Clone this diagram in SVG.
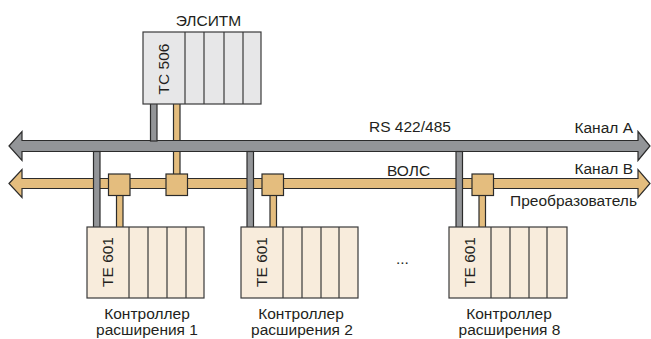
<svg xmlns="http://www.w3.org/2000/svg" width="651" height="339" viewBox="0 0 651 339">
<style>
text{font-family:"Liberation Sans",Arial,sans-serif;font-size:15.5px;fill:#231f20}
.g{fill:#939598;stroke:#2b2b2b;stroke-width:1.2}
.o{fill:#e4bd7e;stroke:#2b2b2b;stroke-width:1.2}
.top{fill:#e7e7e8;stroke:#3a3a3a;stroke-width:1.2}
.ctl{fill:#f8ecdc;stroke:#3a3a3a;stroke-width:1.2}
.div{stroke:#3a3a3a;stroke-width:1.2;fill:none}
.m{text-anchor:middle}
.e{text-anchor:end}
</style>
<rect width="651" height="339" fill="#fff"/>
<g id="connectors">
  <rect class="o" x="173.5" y="100" width="6.5" height="76"/>
  <polygon id="bus-a" class="g" points="9,146 22,131.5 22,140.5 638,140.5 638,131.5 650,146 638,160.5 638,151.5 22,151.5 22,160.5"/>
  <rect class="g" x="150.5" y="100" width="6.5" height="41"/>
  <polygon id="bus-b" class="o" points="9,183.5 22,169.5 22,178.5 638,178.5 638,169.5 650,183.5 638,197.5 638,188.5 22,188.5 22,197.5"/>
  <rect class="g" x="93.5" y="151.5" width="6.5" height="78"/>
  <rect class="g" x="247" y="151.5" width="6.5" height="78"/>
  <rect class="g" x="456" y="151.5" width="6.5" height="78"/>
  <rect class="o" x="116.5" y="192" width="6.5" height="37"/>
  <rect class="o" x="270" y="192" width="6.5" height="37"/>
  <rect class="o" x="479" y="192" width="6.5" height="37"/>
  <rect class="o" x="108.5" y="174" width="21.5" height="21.5"/>
  <rect class="o" x="166" y="174" width="21.5" height="21.5"/>
  <rect class="o" x="262" y="174" width="21.5" height="21.5"/>
  <rect class="o" x="472" y="174" width="21.5" height="21.5"/>
</g>
<g id="labels">
  <text x="369" y="132">RS 422/485</text>
  <text class="e" x="633" y="133">Канал A</text>
  <text x="387" y="175.5">ВОЛС</text>
  <text class="e" x="633" y="174">Канал B</text>
  <text class="e" x="637" y="206">Преобразователь</text>
  <text x="396" y="264">...</text>
</g>
<g id="elsitm">
  <text class="m" x="208.5" y="26">ЭЛСИТМ</text>
  <rect class="top" x="143" y="32" width="118" height="72"/>
  <path class="div" d="M185 32V104M204 32V104M224 32V104M243 32V104"/>
  <text class="m" transform="translate(169,69) rotate(-90)">TC 506</text>
</g>
<g id="controller1">
  <rect class="ctl" x="87" y="227" width="117" height="71"/>
  <path class="div" d="M129 227V298M148 227V298M167 227V298M186 227V298"/>
  <text class="m" transform="translate(113,262) rotate(-90)">TE 601</text>
  <text class="m" x="147" y="319">Контроллер</text>
  <text class="m" x="147" y="335">расширения 1</text>
</g>
<g id="controller2">
  <rect class="ctl" x="241" y="227" width="117" height="71"/>
  <path class="div" d="M283 227V298M302 227V298M321 227V298M339 227V298"/>
  <text class="m" transform="translate(267,262) rotate(-90)">TE 601</text>
  <text class="m" x="301" y="319">Контроллер</text>
  <text class="m" x="302" y="335">расширения 2</text>
</g>
<g id="controller8">
  <rect class="ctl" x="449" y="227" width="118" height="71"/>
  <path class="div" d="M491 227V298M510 227V298M529 227V298M547 227V298"/>
  <text class="m" transform="translate(475,262) rotate(-90)">TE 601</text>
  <text class="m" x="509" y="319">Контроллер</text>
  <text class="m" x="509.5" y="335">расширения 8</text>
</g>
</svg>
